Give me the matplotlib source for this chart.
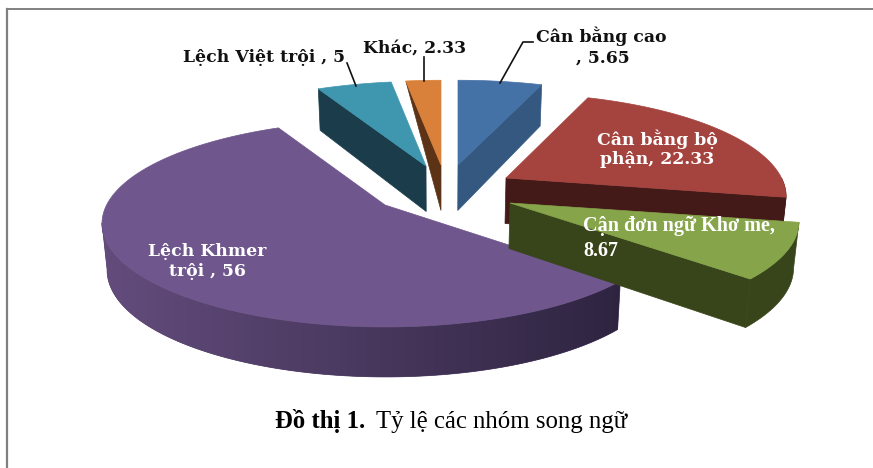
import numpy as np
import matplotlib
matplotlib.use("Agg")
import matplotlib.pyplot as plt
from matplotlib.colors import to_rgb
from matplotlib.patches import Polygon

labels = ["Cân bằng cao", "Cân bằng bộ phận", "Cận đơn ngữ Khơ me",
          "Lệch Khmer trội", "Lệch Việt trội", "Khác"]
values = [5.65, 22.33, 8.67, 56, 5, 2.33]

top_colors = ["#4471A6", "#A5433F", "#86A44A", "#6F568C", "#3F97AF", "#D9813A"]
side_colors = ["#34587F", "#431A18", "#384419", "#4F3C64", "#1B3D4B", "#5C3317"]

# apex of each exploded slice, in pixels
apex_x = [458, 506, 510, 385, 426, 441]
apex_y = [165, 178, 203, 205, 166, 165]
width_scale = [0.97, 0.95, 0.98, 0.96, 0.97, 0.98]
cut_side = ["end", "end", "end", None, "start", "start"]

RX, RY, PERSP = 290, 100, 0.18
VANISH_X, SHRINK = 440, 0.015


def rim(theta, cx, cy, wscale):
    s = 1 / (1 + PERSP * np.cos(theta))
    return cx + RX * wscale * np.sin(theta) * s, cy - RY * np.cos(theta) * s


def drop(x, y, theta):
    # lower edge of the pie wall, a bit deeper at the front
    depth = 41 + 9 * (1 - np.cos(theta)) / 2
    return x - (x - VANISH_X) * SHRINK, y + depth


fig = plt.figure(figsize=(8.73, 4.68), dpi=100)
ax = fig.add_axes([0, 0, 1, 1])
ax.set_xlim(0, 873)
ax.set_ylim(468, 0)
ax.axis("off")

# page frame
ax.plot([7, 7], [468, 9], color="#808080", lw=1.6)
ax.plot([7, 873], [9, 9], color="#808080", lw=1.4)

edges = np.cumsum([0] + values) / sum(values) * 2 * np.pi


def draw_slice(i, z):
    a0, a1 = edges[i], edges[i + 1]
    cx, cy, ws = apex_x[i], apex_y[i], width_scale[i]
    th = np.linspace(a0, a1, 120)
    xs, ys = rim(th, cx, cy, ws)

    # cut face between the apex and one straight edge
    if cut_side[i]:
        a = a1 if cut_side[i] == "end" else a0
        ex, ey = rim(a, cx, cy, ws)
        bx, by = drop(ex, ey, a)
        if i == 5:
            # the back corner of this thin slice is hidden
            bx, by = ex, ey
        ax2, ay2 = drop(cx, cy, np.pi / 2)
        ax.add_patch(Polygon([(ex, ey), (cx, cy), (ax2, ay2), (bx, by)],
                             fc=side_colors[i], ec=side_colors[i], lw=0.5, zorder=z))

    # outer wall, up to the leftmost point of the rim
    lo, hi = max(a0, np.pi / 2), min(a1, np.radians(260))
    if hi > lo:
        tw = np.linspace(lo, hi, 90)
        wx, wy = rim(tw, cx, cy, ws)
        bx, by = drop(wx, wy, tw)
        pts = np.column_stack([np.r_[wx, bx[::-1]], np.r_[wy, by[::-1]]])
        wall = Polygon(pts, fc=side_colors[i], ec=side_colors[i], lw=0.5, zorder=z)
        ax.add_patch(wall)
        if i == 3:
            # purple wall gets lighter towards the left
            left, right = np.array(to_rgb("#644D7D")), np.array(to_rgb("#2E2440"))
            ramp = np.linspace(0, 1, 256)[None, :, None]
            im = ax.imshow(left + (right - left) * ramp, extent=(95, 625, 385, 100),
                           aspect="auto", zorder=z + 0.1)
            im.set_clip_path(wall)

    ax.add_patch(Polygon(np.column_stack([np.r_[cx, xs], np.r_[cy, ys]]),
                         fc=top_colors[i], ec=top_colors[i], lw=0.5, zorder=z + 0.5))


for z, i in enumerate([0, 5, 4, 1, 3, 2]):
    draw_slice(i, z + 1)

ax.set_xlim(0, 873)
ax.set_ylim(468, 0)

# leader lines
ax.plot([500, 523, 533], [83, 42, 42], color="#111111", lw=1.2, zorder=10)
ax.plot([424, 424], [57, 81], color="#111111", lw=1.2, zorder=10)
ax.plot([347, 356], [63, 86], color="#111111", lw=1.2, zorder=10)

serif = "DejaVu Serif"
times = "Liberation Serif"
dark = "#111111"


def slice_label(x, y, s, color, family=serif, size=12.4, ha="center"):
    ax.text(x, y, s, color=color, family=family, weight="bold", fontsize=size,
            ha=ha, va="center", zorder=11)


slice_label(601, 36, labels[0], dark)
slice_label(603, 58, f", {values[0]}", dark)
slice_label(657, 139, "Cân bằng bộ", "white")
slice_label(657, 160, f"phận, {values[1]}", "white")
slice_label(583, 226, labels[2] + ",", "white", times, 14.5, "left")
slice_label(583, 251, f"{values[2]}", "white", times, 14.5, "left")
slice_label(207, 251, "Lệch Khmer", "white")
slice_label(207, 272, f"trội , {values[3]}", "white")
slice_label(264, 58, f"{labels[4]} , {values[4]}", dark)
slice_label(415, 48, f"{labels[5]}, {values[5]}", dark)

ax.text(275, 428, "Đồ thị 1.", family=times, weight="bold", fontsize=17.8,
        color="black", ha="left", va="baseline")
ax.text(376, 428, "Tỷ lệ các nhóm song ngữ", family=times, fontsize=17.8,
        color="black", ha="left", va="baseline")

fig.savefig("out.png", dpi=100)
